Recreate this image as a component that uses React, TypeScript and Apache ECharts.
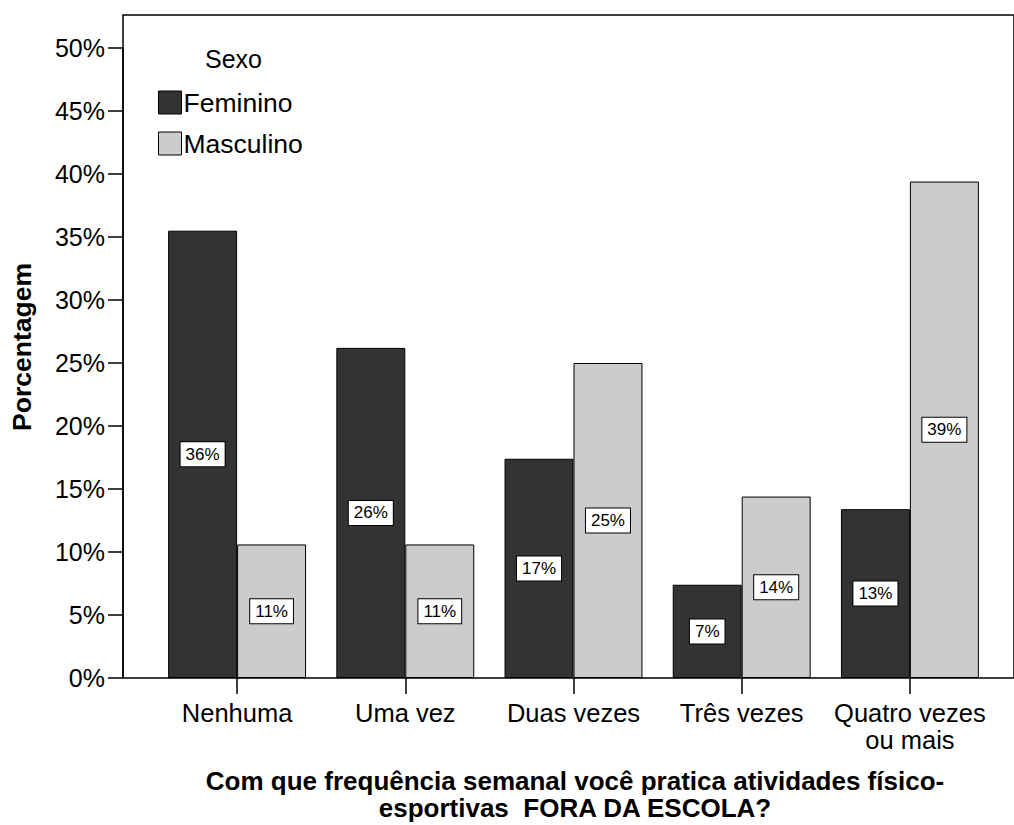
import React, { useEffect, useRef } from "react";
import * as echarts from "echarts";

const categories = ["Nenhuma", "Uma vez", "Duas vezes", "Três vezes", "Quatro vezes\nou mais"];
const feminino = [35.5, 26.2, 17.4, 7.4, 13.4];
const masculino = [10.6, 10.6, 25.0, 14.4, 39.4];
const seriesNames = ["Feminino", "Masculino"];
const legendTitle = "Sexo";
const yTitle = "Porcentagem";
const xTitleLines = ["Com que frequência semanal você pratica atividades físico-", "esportivas  FORA DA ESCOLA?"];

const FONT = "'Liberation Sans', Arial, sans-serif";

export default function App() {
  const ref = useRef<HTMLDivElement>(null);
  useEffect(() => {
    if (!ref.current) return;
    const chart = echarts.init(ref.current, null, { renderer: "svg" });
    const label = {
      show: true,
      position: "inside",
      formatter: (p: any) => Math.round(p.value) + "%",
      color: "#000",
      fontFamily: FONT,
      fontSize: 17,
      backgroundColor: "#fff",
      borderColor: "#000",
      borderWidth: 1,
      padding: [4, 5, 3, 5],
    };
    chart.setOption({
      animation: false,
      backgroundColor: "#fff",
      textStyle: { fontFamily: FONT },
      grid: [
        { left: 153, right: 20, top: 48, bottom: 147 },
        { left: 123, right: -3, top: 15, bottom: 147, show: true, borderColor: "#000", borderWidth: 1.5, backgroundColor: "transparent" },
      ],
      xAxis: [
        {
          type: "category",
          gridIndex: 0,
          data: categories,
          axisLine: { show: false },
          axisTick: { show: true, alignWithLabel: true, length: 16, lineStyle: { color: "#000", width: 1.5 } },
          axisLabel: { color: "#000", fontFamily: FONT, fontSize: 25.5, margin: 21, lineHeight: 27, interval: 0 },
        },
        { type: "value", gridIndex: 1, show: false, min: 0, max: 1 },
      ],
      yAxis: [
        {
          type: "value",
          gridIndex: 0,
          min: 0,
          max: 50,
          interval: 5,
          offset: 30,
          axisLine: { show: true, lineStyle: { color: "#000", width: 1.5 } },
          axisTick: { show: true, length: 15, lineStyle: { color: "#000", width: 1.5 } },
          axisLabel: { color: "#000", fontFamily: FONT, fontSize: 25, margin: 18, formatter: "{value}%" },
          splitLine: { show: false },
        },
        { type: "value", gridIndex: 1, show: false, min: 0, max: 1 },
      ],
      legend: {
        data: seriesNames,
        orient: "vertical",
        left: 153,
        top: 84,
        itemWidth: 23,
        itemHeight: 23,
        itemGap: 14,
        icon: "rect",
        itemStyle: { borderColor: "#000", borderWidth: 1 },
        textStyle: { color: "#000", fontFamily: FONT, fontSize: 26.5, padding: [0, 0, 0, -3] },
      },
      series: [
        {
          name: seriesNames[0],
          type: "bar",
          xAxisIndex: 0,
          yAxisIndex: 0,
          data: feminino,
          barGap: "0%",
          barCategoryGap: "18%",
          itemStyle: { color: "#333333", borderColor: "#000", borderWidth: 1 },
          label,
        },
        {
          name: seriesNames[1],
          type: "bar",
          xAxisIndex: 0,
          yAxisIndex: 0,
          data: masculino,
          barGap: "0%",
          barCategoryGap: "18%",
          itemStyle: { color: "#cccccc", borderColor: "#000", borderWidth: 1 },
          label,
        },
      ],
      graphic: [
        {
          type: "text",
          left: 205,
          top: 46,
          style: { text: legendTitle, fill: "#000", font: `25px ${FONT}` },
        },
        {
          type: "text",
          x: 22,
          y: 347,
          rotation: Math.PI / 2,
          style: { text: yTitle, fill: "#000", font: `bold 26.5px ${FONT}`, textAlign: "center", textVerticalAlign: "middle" },
        },
        {
          type: "text",
          x: 575,
          y: 781,
          style: { text: xTitleLines[0], fill: "#000", font: `bold 26px ${FONT}`, lineHeight: 26, textAlign: "center", textVerticalAlign: "middle" },
        },
        {
          type: "text",
          x: 575,
          y: 808,
          style: { text: xTitleLines[1], fill: "#000", font: `bold 26px ${FONT}`, lineHeight: 26, textAlign: "center", textVerticalAlign: "middle" },
        },
      ],
    });
    return () => chart.dispose();
  }, []);
  return <div ref={ref} style={{ position: "absolute", left: 0, top: 0, width: 1014, height: 825 }} />;
}
